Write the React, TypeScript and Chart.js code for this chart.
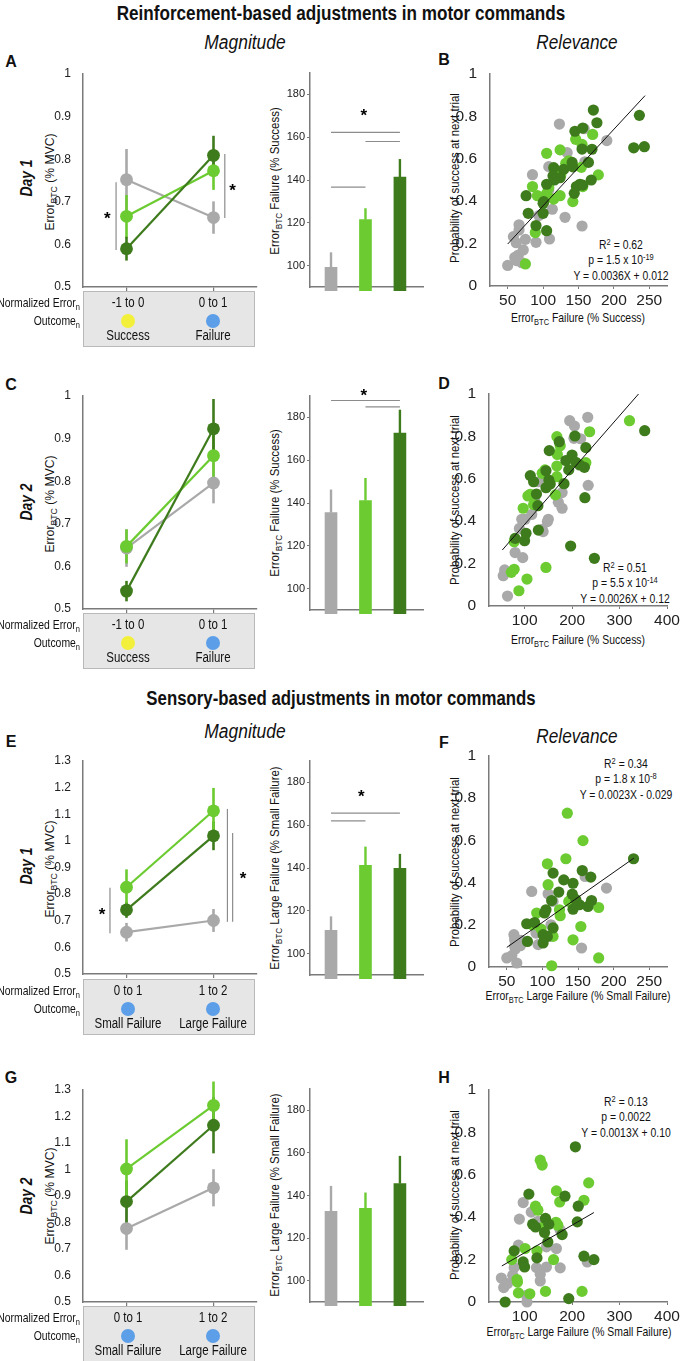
import React, { useEffect, useRef } from 'react';
import { Chart, registerables } from 'chart.js';

Chart.register(...registerables);

// ================= DATA =================
// Categories / outcomes
const catsReinf = ['-1 to 0', '0 to 1'];
const outcomesReinf = ['Success', 'Failure'];
const outcomeColorsReinf = ['#f3f03c', '#5c9ee8'];
const catsSens = ['0 to 1', '1 to 2'];
const outcomesSens = ['Small Failure', 'Large Failure'];
const outcomeColorsSens = ['#5c9ee8', '#5c9ee8'];

// Tick labels
const yTicksReinf = [0.5, 0.6, 0.7, 0.8, 0.9, 1];
const yTicksSens = [0.5, 0.6, 0.7, 0.8, 0.9, 1, 1.1, 1.2, 1.3];
const barTicks = [100, 120, 140, 160, 180];
const probTicks = [0, 0.2, 0.4, 0.6, 0.8, 1];
const xTicks250 = [50, 100, 150, 200, 250];
const xTicks400 = [100, 200, 300, 400];

// Panel A (line, mean ± error)
const A_gray = [0.752, 0.663];
const A_grayErr = [0.072, 0.038];
const A_light = [0.666, 0.773];
const A_lightErr = [0.05, 0.045];
const A_dark = [0.59, 0.809];
const A_darkErr = [0.028, 0.046];
// Panel C
const C_gray = [0.643, 0.796];
const C_grayErr = [0.044, 0.048];
const C_light = [0.647, 0.86];
const C_lightErr = [0.04, 0.06];
const C_dark = [0.542, 0.923];
const C_darkErr = [0.024, 0.07];
// Panel E
const E_gray = [0.657, 0.701];
const E_grayErr = [0.035, 0.043];
const E_light = [0.826, 1.113];
const E_lightErr = [0.067, 0.086];
const E_dark = [0.741, 1.019];
const E_darkErr = [0.03, 0.054];
// Panel G
const G_gray = [0.777, 0.931];
const G_grayErr = [0.08, 0.07];
const G_light = [1.002, 1.242];
const G_lightErr = [0.112, 0.09];
const G_dark = [0.879, 1.167];
const G_darkErr = [0.08, 0.106];

// Significance marks on line panels: [x(category units), yFrom, yTo]
const A_sigV = [[-0.12, 0.587, 0.746], [1.13, 0.662, 0.812]];
const A_stars = [[-0.22, 0.669], [1.22, 0.735]];
const E_sigV = [[-0.19, 0.653, 0.824], [1.16, 0.696, 1.12], [1.22, 0.696, 1.03]];
const E_stars = [[-0.28, 0.738], [1.34, 0.87]];

// Bar panels (% values, upper error)
const A_bars = [99.2, 121.5, 141.4];
const A_barErr = [7, 5.3, 8.4];
const C_bars = [135.5, 141.1, 172.7];
const C_barErr = [10.8, 10.6, 10.9];
const E_bars = [110.9, 141.2, 139.8];
const E_barErr = [6.5, 8.8, 6.8];
const G_bars = [132.6, 134, 145.6];
const G_barErr = [11.9, 7.4, 13];
// Bar significance lines: [fromBar, toBar, y]
const A_barSig = [[0, 1, 136.7], [0, 2, 162.3], [1, 2, 158]];
const A_barStar = [[0.95, 172]];
const C_barSig = [[0, 2, 187.9], [1, 2, 184.9]];
const C_barStar = [[0.95, 192]];
const E_barSig = [[0, 2, 165.6], [0, 1, 162]];
const E_barStar = [[0.88, 175]];

// Scatter panels: [x, y]
const B_dark = [[171, 0.83], [176, 0.77], [145, 0.73], [156, 0.745], [169, 0.645], [236, 0.805], [228, 0.652], [243, 0.657], [155, 0.646], [164, 0.583], [141, 0.583], [142, 0.562], [115, 0.558], [129, 0.55], [114, 0.519], [124, 0.511], [116, 0.5], [105, 0.48], [168, 0.5], [152, 0.48], [144, 0.437], [147, 0.469], [156, 0.476], [101, 0.398], [100, 0.39], [100, 0.343], [79, 0.343], [76, 0.426], [90, 0.285], [105, 0.261]];
const B_light = [[146, 0.692], [170, 0.715], [155, 0.668], [124, 0.642], [105, 0.626], [132, 0.579], [139, 0.571], [125, 0.524], [154, 0.56], [178, 0.524], [156, 0.469], [85, 0.469], [92, 0.426], [115, 0.41], [124, 0.426], [142, 0.398], [89, 0.252], [75, 0.104], [105, 0.437], [108, 0.465], [136, 0.59]];
const B_gray = [[123, 0.764], [158, 0.742], [190, 0.686], [134, 0.629], [159, 0.586], [108, 0.563], [85, 0.525], [108, 0.453], [113, 0.362], [94, 0.332], [131, 0.324], [155, 0.283], [66, 0.289], [62, 0.204], [75, 0.22], [90, 0.206], [109, 0.222], [50, 0.097], [65, 0.146], [72, 0.17], [60, 0.135], [63, 0.119], [70, 0.11], [58, 0.233], [66, 0.264]];
const B_fit = [[50, 0.198], [244, 0.898]];

const D_dark = [[353, 0.827], [206, 0.802], [173, 0.775], [152, 0.733], [229, 0.747], [200, 0.712], [187, 0.686], [208, 0.678], [216, 0.665], [226, 0.654], [193, 0.642], [145, 0.638], [112, 0.615], [119, 0.586], [125, 0.528], [128, 0.473], [151, 0.594], [154, 0.575], [145, 0.558], [183, 0.577], [227, 0.511], [129, 0.358], [103, 0.343], [100, 0.308], [80, 0.319], [197, 0.283], [247, 0.225]];
const D_light = [[321, 0.874], [237, 0.822], [168, 0.799], [175, 0.756], [169, 0.715], [168, 0.66], [168, 0.61], [165, 0.524], [229, 0.676], [137, 0.626], [143, 0.642], [107, 0.519], [112, 0.527], [97, 0.461], [78, 0.303], [78, 0.173], [72, 0.159], [105, 0.127], [145, 0.182], [88, 0.072], [119, 0.478]];
const D_gray = [[195, 0.874], [205, 0.849], [233, 0.89], [204, 0.791], [218, 0.789], [234, 0.569], [179, 0.535], [171, 0.489], [179, 0.461], [150, 0.409], [148, 0.398], [137, 0.362], [139, 0.351], [115, 0.432], [94, 0.409], [101, 0.409], [89, 0.366], [80, 0.252], [96, 0.228], [55, 0.143], [58, 0.17], [64, 0.047], [129, 0.586], [121, 0.5]];
const D_fit = [[53, 0.264], [340, 1.0]];

const F_dark = [[228, 0.513], [156, 0.457], [168, 0.426], [115, 0.445], [130, 0.413], [143, 0.397], [123, 0.355], [142, 0.345], [113, 0.315], [147, 0.319], [152, 0.295], [164, 0.287], [169, 0.315], [143, 0.274], [105, 0.271], [103, 0.256], [78, 0.205], [89, 0.211], [79, 0.121], [101, 0.153], [107, 0.145], [115, 0.185], [101, 0.114]];
const F_light = [[135, 0.729], [157, 0.599], [133, 0.513], [107, 0.489], [108, 0.39], [92, 0.256], [124, 0.271], [137, 0.311], [154, 0.192], [179, 0.282], [143, 0.129], [179, 0.043], [113, 0.006], [98, 0.18], [115, 0.145], [86, 0.2], [125, 0.243], [141, 0.326]];
const F_gray = [[160, 0.429], [190, 0.374], [85, 0.358], [108, 0.347], [115, 0.311], [91, 0.161], [60, 0.153], [61, 0.129], [70, 0.126], [69, 0.101], [62, 0.085], [57, 0.054], [50, 0.043], [64, 0.019], [155, 0.09], [94, 0.106], [111, 0.145], [112, 0.2], [61, 0.098]];
const F_fit = [[50, 0.093], [228.5, 0.516]];

const H_dark = [[207, 0.732], [109, 0.509], [185, 0.499], [213, 0.452], [144, 0.394], [151, 0.367], [117, 0.367], [123, 0.354], [142, 0.328], [179, 0.318], [211, 0.378], [149, 0.283], [78, 0.241], [97, 0.189], [100, 0.165], [126, 0.208], [225, 0.216], [246, 0.2], [59, 0], [193, 0.016]];
const H_light = [[133, 0.669], [137, 0.646], [235, 0.562], [167, 0.524], [225, 0.48], [174, 0.472], [123, 0.452], [128, 0.433], [166, 0.376], [170, 0.362], [140, 0.354], [126, 0.241], [101, 0.252], [73, 0.2], [161, 0.2], [84, 0.106], [85, 0.094], [87, 0.043], [111, 0.039], [144, 0.05], [221, 0.05]];
const H_gray = [[97, 0.469], [114, 0.424], [89, 0.391], [128, 0.381], [175, 0.339], [87, 0.268], [146, 0.26], [167, 0.252], [78, 0.162], [125, 0.162], [146, 0.165], [175, 0.161], [133, 0.131], [133, 0.099], [51, 0.113], [56, 0.068], [64, 0.087], [75, 0.126], [104, 0.031], [105, 0], [232, 0.189]];
const H_fit = [[52, 0.17], [246, 0.422]];

// ================= STYLE =================
const SANS = "'Liberation Sans', Arial, sans-serif";
const GRAY = '#a9a9a9';
const LIGHT = '#6bcb30';
const DARK = '#3e7b1c';
const AXIS = '#7a7a7a';
const SIGC = '#8c8c8c';
const GROUP_COLORS = [GRAY, LIGHT, DARK];

Chart.defaults.font.family = SANS;
Chart.defaults.color = '#222';

const fmt = (v: any) => String(+Number(v).toFixed(2));

function fixAxis(size: number, horizontal: boolean) {
  return (s: any) => {
    if (horizontal) s.height = size;
    else s.width = size;
    s.paddingLeft = 0;
    s.paddingRight = 0;
    s.paddingTop = 0;
    s.paddingBottom = 0;
  };
}
function setTicks(vals: number[]) {
  return (s: any) => {
    s.ticks = vals.map((v) => ({ value: v }));
  };
}

const lineErrPlugin = {
  id: 'lineErr',
  beforeDatasetsDraw(chart: any) {
    const ctx = chart.ctx;
    const y = chart.scales.y;
    const n = chart.data.datasets.length;
    for (let i = n - 1; i >= 0; i--) {
      const ds = chart.data.datasets[i];
      const meta = chart.getDatasetMeta(i);
      ctx.save();
      ctx.strokeStyle = ds.borderColor;
      ctx.lineWidth = 2.6;
      ds.errors.forEach((e: number, j: number) => {
        const pt = meta.data[j];
        const v = ds.data[j];
        ctx.beginPath();
        ctx.moveTo(pt.x, y.getPixelForValue(v - e));
        ctx.lineTo(pt.x, y.getPixelForValue(v + e));
        ctx.stroke();
      });
      ctx.restore();
    }
  },
};

const barErrPlugin = {
  id: 'barErr',
  afterDatasetsDraw(chart: any) {
    const ctx = chart.ctx;
    const y = chart.scales.y;
    const ds = chart.data.datasets[0];
    const meta = chart.getDatasetMeta(0);
    ds.errors.forEach((e: number, j: number) => {
      const el = meta.data[j];
      const v = ds.data[j].y;
      ctx.save();
      ctx.strokeStyle = ds.backgroundColor[j];
      ctx.lineWidth = 2.4;
      ctx.beginPath();
      ctx.moveTo(el.x, y.getPixelForValue(v));
      ctx.lineTo(el.x, y.getPixelForValue(v + e));
      ctx.stroke();
      ctx.restore();
    });
  },
};

const sigPlugin = {
  id: 'sig',
  afterDatasetsDraw(chart: any, _a: any, opts: any) {
    if (!opts) return;
    const xs = chart.scales.x;
    const ys = chart.scales.y;
    const ctx = chart.ctx;
    ctx.save();
    ctx.strokeStyle = SIGC;
    ctx.lineWidth = 1.2;
    (opts.h || []).forEach((l: number[]) => {
      const py = ys.getPixelForValue(l[2]);
      ctx.beginPath();
      ctx.moveTo(xs.getPixelForValue(l[0]), py);
      ctx.lineTo(xs.getPixelForValue(l[1]), py);
      ctx.stroke();
    });
    (opts.v || []).forEach((l: number[]) => {
      const px = xs.getPixelForValue(l[0]);
      ctx.beginPath();
      ctx.moveTo(px, ys.getPixelForValue(l[1]));
      ctx.lineTo(px, ys.getPixelForValue(l[2]));
      ctx.stroke();
    });
    ctx.fillStyle = '#000';
    ctx.font = `bold 17px ${SANS}`;
    ctx.textAlign = 'center';
    ctx.textBaseline = 'alphabetic';
    (opts.stars || []).forEach((s: number[]) => {
      ctx.fillText('*', xs.getPixelForValue(s[0]), ys.getPixelForValue(s[1]) + 9);
    });
    ctx.restore();
  },
};

type Area = { x0: number; x1: number; y0: number; y1: number };
type Margins = { yW: number; xH: number; mt: number; mr: number };

function ChartCanvas({ area, m, make }: { area: Area; m: Margins; make: () => any }) {
  const ref = useRef<HTMLCanvasElement | null>(null);
  const w = area.x1 - area.x0 + m.yW + m.mr;
  const h = area.y1 - area.y0 + m.mt + m.xH;
  useEffect(() => {
    const cfg = make();
    cfg.options.layout = { autoPadding: false, padding: { top: m.mt, right: m.mr, left: 0, bottom: 0 } };
    const chart = new Chart(ref.current as HTMLCanvasElement, cfg);
    return () => chart.destroy();
  }, []);
  return (
    <canvas
      ref={ref}
      width={w}
      height={h}
      style={{ position: 'absolute', left: area.x0 - m.yW, top: area.y0 - m.mt, width: w, height: h }}
    />
  );
}

const baseOptions = () => ({
  responsive: false,
  animation: false,
  events: [],
  plugins: { legend: { display: false }, tooltip: { enabled: false } } as any,
});

function LinePanel({ area, cats, series, yMin, yMax, yTicks, sig }: any) {
  const m = { yW: 40, xH: 6, mt: 12, mr: 6 };
  const make = () => {
    const o: any = baseOptions();
    o.plugins.sig = sig;
    o.scales = {
      x: {
        type: 'category',
        offset: true,
        grid: { display: true, offset: false, drawOnChartArea: false, drawTicks: true, tickLength: 4, color: AXIS, lineWidth: 1.2 },
        border: { color: AXIS, width: 1.5 },
        ticks: { display: false },
        afterFit: fixAxis(m.xH, true),
      },
      y: {
        type: 'linear',
        min: yMin,
        max: yMax,
        grid: { display: false },
        border: { color: AXIS, width: 1.5 },
        ticks: { font: { size: 12 }, padding: 4, color: '#222', callback: fmt },
        afterBuildTicks: setTicks(yTicks),
        afterFit: fixAxis(m.yW, false),
      },
    };
    return {
      type: 'line',
      data: {
        labels: cats,
        datasets: series.map((s: any) => ({
          data: s.values,
          errors: s.errors,
          borderColor: s.color,
          backgroundColor: s.color,
          pointBackgroundColor: s.color,
          pointBorderColor: s.color,
          pointBorderWidth: 0,
          pointRadius: 6.4,
          borderWidth: 2.2,
          clip: false,
        })),
      },
      options: o,
      plugins: [lineErrPlugin, sigPlugin],
    };
  };
  return <ChartCanvas area={area} m={m} make={make} />;
}

function BarPanel({ area, values, errors, sig }: any) {
  const m = { yW: 36, xH: 4, mt: 30, mr: 4 };
  const make = () => {
    const o: any = baseOptions();
    o.plugins.sig = sig;
    o.scales = {
      x: {
        type: 'linear',
        offset: false,
        min: -0.61,
        max: 2.67,
        grid: { display: false, offset: false },
        border: { color: AXIS, width: 1.5 },
        ticks: { display: false },
        afterFit: fixAxis(m.xH, true),
      },
      y: {
        type: 'linear',
        min: 90,
        max: 190,
        grid: { display: true, drawOnChartArea: false, drawTicks: true, tickLength: 3, color: AXIS },
        border: { color: AXIS, width: 1.5 },
        ticks: { font: { size: 11 }, padding: 2, color: '#222', callback: fmt },
        afterBuildTicks: setTicks(barTicks),
        afterFit: fixAxis(m.yW, false),
      },
    };
    return {
      type: 'bar',
      data: {
        datasets: [
          {
            data: values.map((v: number, i: number) => ({ x: i, y: v })),
            errors,
            backgroundColor: GROUP_COLORS,
            barThickness: 12,
            borderWidth: 0,
            clip: false,
          },
        ],
      },
      options: o,
      plugins: [barErrPlugin, sigPlugin],
    };
  };
  return <ChartCanvas area={area} m={m} make={make} />;
}

function ScatterPanel({ area, xMin, xMax, xTicks, dark, light, gray, fit }: any) {
  const m = { yW: 40, xH: 26, mt: 12, mr: 14 };
  const pts = (arr: number[][]) => arr.map((p) => ({ x: p[0], y: p[1] }));
  const dot = (arr: number[][], c: string) => ({
    data: pts(arr),
    backgroundColor: c,
    borderColor: c,
    pointBackgroundColor: c,
    pointBorderColor: c,
    pointBorderWidth: 0,
    pointRadius: 5.6,
    clip: false,
  });
  const make = () => {
    const o: any = baseOptions();
    o.scales = {
      x: {
        type: 'linear',
        min: xMin,
        max: xMax,
        grid: { display: true, drawOnChartArea: false, drawTicks: true, tickLength: 3, color: AXIS },
        border: { color: AXIS, width: 1.5 },
        ticks: { font: { size: 15.5 }, padding: 2, color: '#222', maxRotation: 0, callback: fmt },
        afterBuildTicks: setTicks(xTicks),
        afterFit: fixAxis(m.xH, true),
      },
      y: {
        type: 'linear',
        min: 0,
        max: 1,
        grid: { display: false },
        border: { color: AXIS, width: 1.5 },
        ticks: { font: { size: 15.5 }, padding: 5, color: '#222', callback: fmt },
        afterBuildTicks: setTicks(probTicks),
        afterFit: fixAxis(m.yW, false),
      },
    };
    return {
      type: 'scatter',
      data: {
        datasets: [
          { data: pts(fit), showLine: true, borderColor: '#111', backgroundColor: '#111', borderWidth: 1, pointRadius: 0, clip: false },
          dot(dark, DARK),
          dot(light, LIGHT),
          dot(gray, GRAY),
        ],
      },
      options: o,
    };
  };
  return <ChartCanvas area={area} m={m} make={make} />;
}

// ================= HTML TEXT =================
function T({ x, y, size, children, weight = 'normal', italic = false, rot = false, family = SANS, anchor = 'center', color = '#111', sx = 1 }: any) {
  const tx = anchor === 'center' ? '-50%' : anchor === 'right' ? '-100%' : '0';
  const origin = anchor === 'center' ? 'center center' : anchor === 'right' ? 'right center' : 'left center';
  return (
    <div
      style={{
        position: 'absolute',
        left: x,
        top: y,
        transform: `translate(${tx}, -50%)${rot ? ' rotate(-90deg)' : ''}${sx !== 1 ? ` scaleX(${sx})` : ''}`,
        transformOrigin: origin,
        fontSize: size,
        fontWeight: weight,
        fontStyle: italic ? 'italic' : 'normal',
        fontFamily: family,
        whiteSpace: 'nowrap',
        lineHeight: 1.1,
        color,
      }}
    >
      {children}
    </div>
  );
}
const Sub = ({ children }: any) => (
  <span style={{ fontSize: '0.72em', position: 'relative', top: '0.32em' }}>{children}</span>
);
const Sup = ({ children }: any) => (
  <span style={{ fontSize: '0.72em', position: 'relative', top: '-0.48em' }}>{children}</span>
);

function OutcomeBox({ top, cats, outcomes, colors }: any) {
  const xs = [128, 213];
  return (
    <>
      <div
        style={{
          position: 'absolute',
          left: 83,
          top,
          width: 172,
          height: 56,
          background: '#e6e6e6',
          border: '1px solid #b9b9b9',
          boxSizing: 'border-box',
        }}
      />
      <T x={80} y={top + 12} size={13} sx={0.8} anchor="right">
        Normalized Error<Sub>n</Sub>
      </T>
      <T x={80} y={top + 30} size={13} sx={0.8} anchor="right">
        Outcome<Sub>n</Sub>
      </T>
      {cats.map((c: string, i: number) => (
        <T key={'c' + i} x={xs[i]} y={top + 12} size={14} sx={0.82}>
          {c}
        </T>
      ))}
      {colors.map((c: string, i: number) => (
        <div
          key={'d' + i}
          style={{ position: 'absolute', left: xs[i] - 7, top: top + 23, width: 14, height: 14, borderRadius: 7, background: c }}
        />
      ))}
      {outcomes.map((c: string, i: number) => (
        <T key={'o' + i} x={xs[i]} y={top + 45} size={14} sx={0.82}>
          {c}
        </T>
      ))}
    </>
  );
}

const Letter = ({ x, y, children }: any) => (
  <T x={x} y={y} size={16} weight="bold">
    {children}
  </T>
);

function StatText({ x, y, r2, p, eq }: any) {
  return (
    <>
      <T x={x} y={y} size={13} sx={0.8}>
        R<Sup>2</Sup> = {r2}
      </T>
      <T x={x} y={y + 15} size={13} sx={0.8}>
        {p}
      </T>
      <T x={x} y={y + 31} size={13} sx={0.8}>
        {eq}
      </T>
    </>
  );
}

const YTitleLine = ({ y }: any) => (
  <T x={50} y={y} size={13.5} sx={0.9} rot>
    Error<Sub>BTC</Sub> (% MVC)
  </T>
);
const DayLabel = ({ y, children }: any) => (
  <T x={27} y={y} size={16} sx={0.87} weight="bold" italic rot>
    {children}
  </T>
);

export default function App() {
  const ser = (g: number[], ge: number[], l: number[], le: number[], d: number[], de: number[], lightTop = false) => {
    const dark = { values: d, errors: de, color: DARK };
    const light = { values: l, errors: le, color: LIGHT };
    const gray = { values: g, errors: ge, color: GRAY };
    return lightTop ? [light, dark, gray] : [dark, light, gray];
  };
  return (
    <div
      style={{
        position: 'absolute',
        left: 0,
        top: 0,
        width: 681,
        height: 1361,
        background: '#fff',
        overflow: 'hidden',
        fontFamily: SANS,
        color: '#111',
      }}
    >
      {/* ===== Section 1 ===== */}
      <T x={341} y={13} size={20} sx={0.855} weight="bold">Reinforcement-based adjustments in motor commands</T>
      <T x={245} y={42} size={20} sx={0.87} italic>Magnitude</T>
      <T x={577} y={42} size={20} sx={0.86} italic>Relevance</T>

      {/* Row A / B */}
      <Letter x={11} y={62}>A</Letter>
      <Letter x={444} y={60}>B</Letter>
      <DayLabel y={178}>Day 1</DayLabel>
      <YTitleLine y={182} />
      <T x={275} y={181} size={13} sx={0.88} rot>
        Error<Sub>BTC</Sub> Failure (% Success)
      </T>
      <T x={455} y={178} size={13} sx={0.88} rot>Probability of success at next trial</T>
      <T x={578} y={318} size={13} sx={0.8}>
        Error<Sub>BTC</Sub> Failure (% Success)
      </T>
      <StatText x={621} y={245} r2="0.62" p={<>p = 1.5 x 10<Sup>-19</Sup></>} eq="Y = 0.0036X + 0.012" />
      <LinePanel
        area={{ x0: 83, x1: 257, y0: 74, y1: 287 }}
        cats={catsReinf}
        series={ser(A_gray, A_grayErr, A_light, A_lightErr, A_dark, A_darkErr)}
        yMin={0.5}
        yMax={1}
        yTicks={yTicksReinf}
        sig={{ v: A_sigV, stars: A_stars }}
      />
      <BarPanel area={{ x0: 310, x1: 423, y0: 73, y1: 287 }} values={A_bars} errors={A_barErr} sig={{ h: A_barSig, stars: A_barStar }} />
      <ScatterPanel area={{ x0: 490, x1: 667, y0: 74, y1: 286 }} xMin={25} xMax={275} xTicks={xTicks250} dark={B_dark} light={B_light} gray={B_gray} fit={B_fit} />
      <OutcomeBox top={291} cats={catsReinf} outcomes={outcomesReinf} colors={outcomeColorsReinf} />

      {/* Row C / D */}
      <Letter x={11} y={385}>C</Letter>
      <Letter x={444} y={384}>D</Letter>
      <DayLabel y={502}>Day 2</DayLabel>
      <YTitleLine y={504} />
      <T x={275} y={503} size={13} sx={0.88} rot>
        Error<Sub>BTC</Sub> Failure (% Success)
      </T>
      <T x={455} y={500} size={13} sx={0.88} rot>Probability of success at next trial</T>
      <T x={578} y={640} size={13} sx={0.8}>
        Error<Sub>BTC</Sub> Failure (% Success)
      </T>
      <StatText x={625} y={568} r2="0.51" p={<>p = 5.5 x 10<Sup>-14</Sup></>} eq="Y = 0.0026X + 0.12" />
      <LinePanel
        area={{ x0: 83, x1: 257, y0: 396, y1: 609 }}
        cats={catsReinf}
        series={ser(C_gray, C_grayErr, C_light, C_lightErr, C_dark, C_darkErr)}
        yMin={0.5}
        yMax={1}
        yTicks={yTicksReinf}
        sig={{}}
      />
      <BarPanel area={{ x0: 310, x1: 423, y0: 396, y1: 610 }} values={C_bars} errors={C_barErr} sig={{ h: C_barSig, stars: C_barStar }} />
      <ScatterPanel area={{ x0: 489, x1: 667, y0: 394, y1: 606 }} xMin={25} xMax={400} xTicks={xTicks400} dark={D_dark} light={D_light} gray={D_gray} fit={D_fit} />
      <OutcomeBox top={613} cats={catsReinf} outcomes={outcomesReinf} colors={outcomeColorsReinf} />

      {/* ===== Section 2 ===== */}
      <T x={341} y={698} size={20} sx={0.84} weight="bold">Sensory-based adjustments in motor commands</T>
      <T x={245} y={731} size={20} sx={0.87} italic>Magnitude</T>
      <T x={577} y={736} size={20} sx={0.86} italic>Relevance</T>

      {/* Row E / F */}
      <Letter x={11} y={742}>E</Letter>
      <Letter x={444} y={743}>F</Letter>
      <DayLabel y={866}>Day 1</DayLabel>
      <YTitleLine y={869} />
      <T x={275} y={868} size={13} sx={0.88} rot>
        Error<Sub>BTC</Sub> Large Failure (% Small Failure)
      </T>
      <T x={455} y={862} size={13} sx={0.88} rot>Probability of success at next trial</T>
      <T x={578} y={996} size={13} sx={0.8}>
        Error<Sub>BTC</Sub> Large Failure (% Small Failure)
      </T>
      <StatText x={626} y={764} r2="0.34" p={<>p = 1.8 x 10<Sup>-8</Sup></>} eq="Y = 0.0023X - 0.029" />
      <LinePanel
        area={{ x0: 83, x1: 257, y0: 761, y1: 974 }}
        cats={catsSens}
        series={ser(E_gray, E_grayErr, E_light, E_lightErr, E_dark, E_darkErr, true)}
        yMin={0.5}
        yMax={1.3}
        yTicks={yTicksSens}
        sig={{ v: E_sigV, stars: E_stars }}
      />
      <BarPanel area={{ x0: 310, x1: 423, y0: 761, y1: 975 }} values={E_bars} errors={E_barErr} sig={{ h: E_barSig, stars: E_barStar }} />
      <ScatterPanel area={{ x0: 489, x1: 667, y0: 756, y1: 967 }} xMin={25} xMax={275} xTicks={xTicks250} dark={F_dark} light={F_light} gray={F_gray} fit={F_fit} />
      <OutcomeBox top={979} cats={catsSens} outcomes={outcomesSens} colors={outcomeColorsSens} />

      {/* Row G / H */}
      <Letter x={11} y={1078}>G</Letter>
      <Letter x={444} y={1078}>H</Letter>
      <DayLabel y={1196}>Day 2</DayLabel>
      <YTitleLine y={1196} />
      <T x={275} y={1195} size={13} sx={0.88} rot>
        Error<Sub>BTC</Sub> Large Failure (% Small Failure)
      </T>
      <T x={455} y={1195} size={13} sx={0.88} rot>Probability of success at next trial</T>
      <T x={579} y={1332} size={13} sx={0.8}>
        Error<Sub>BTC</Sub> Large Failure (% Small Failure)
      </T>
      <StatText x={626} y={1102} r2="0.13" p="p = 0.0022" eq="Y = 0.0013X + 0.10" />
      <LinePanel
        area={{ x0: 83, x1: 257, y0: 1090, y1: 1302 }}
        cats={catsSens}
        series={ser(G_gray, G_grayErr, G_light, G_lightErr, G_dark, G_darkErr, true)}
        yMin={0.5}
        yMax={1.3}
        yTicks={yTicksSens}
        sig={{}}
      />
      <BarPanel area={{ x0: 310, x1: 423, y0: 1089, y1: 1302 }} values={G_bars} errors={G_barErr} sig={{}} />
      <ScatterPanel area={{ x0: 489, x1: 667, y0: 1090, y1: 1302 }} xMin={25} xMax={400} xTicks={xTicks400} dark={H_dark} light={H_light} gray={H_gray} fit={H_fit} />
      <OutcomeBox top={1306} cats={catsSens} outcomes={outcomesSens} colors={outcomeColorsSens} />
    </div>
  );
}
